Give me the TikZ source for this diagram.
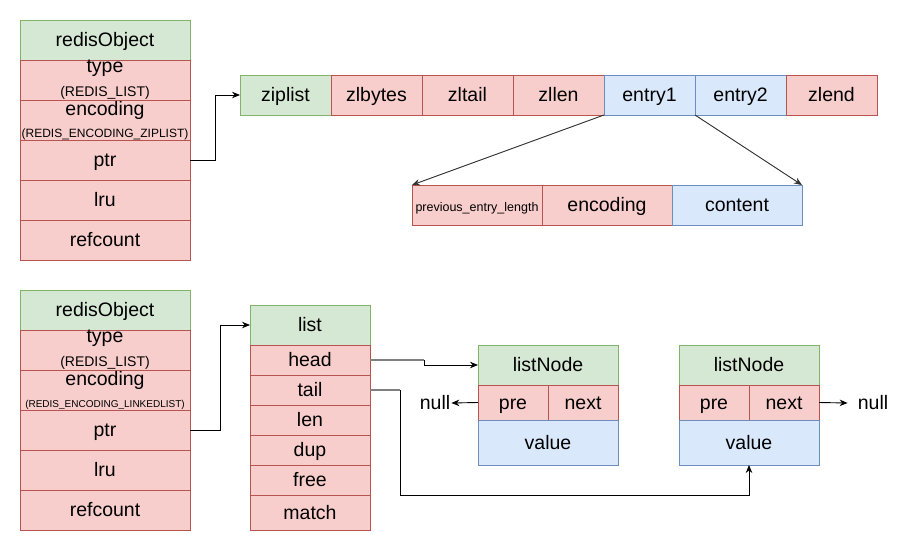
\documentclass[tikz,border=0pt]{standalone}
\usepackage{fontspec}
\setmainfont{Liberation Sans}
\usetikzlibrary{arrows.meta}
\definecolor{gfill}{HTML}{D5E8D4}\definecolor{gline}{HTML}{82B366}
\definecolor{rfill}{HTML}{F8CECC}\definecolor{rline}{HTML}{B85450}
\definecolor{bfill}{HTML}{DAE8FC}\definecolor{bline}{HTML}{6C8EBF}
\definecolor{edgegray}{HTML}{333333}
\begin{document}
\begin{tikzpicture}[x=1pt,y=-1pt,
  cell/.style={rectangle,inner sep=0pt,outer sep=0pt,line width=0.8pt,
     text height=15.6pt,text depth=2.2pt,
     font=\fontsize{19.5}{23}\selectfont},
  gcell/.style={cell,draw=gline,fill=gfill},
  rcell/.style={cell,draw=rline,fill=rfill},
  bcell/.style={cell,draw=bline,fill=bfill},
  lbl/.style={inner sep=0pt,font=\fontsize{19.5}{23}\selectfont},
  small/.style={inner sep=0pt},
  arr/.style={line width=0.9pt,-{Stealth[length=8pt,width=6.5pt]}},
  garr/.style={arr,draw=edgegray,fill=edgegray}]
\useasboundingbox (0,0) rectangle (919,551);
\fill[white] (0,0) rectangle (919,551);
% ---- top redisObject
\node[gcell,minimum width=170pt,minimum height=40pt] (roAh) at (105,40) {redisObject};
\node[rcell,minimum width=170pt,minimum height=40pt] (roAt) at (105,80) {};
\node[rcell,minimum width=170pt,minimum height=40pt] (roAe) at (105,120) {};
\node[rcell,minimum width=170pt,minimum height=40pt] (roAp) at (105,160) {ptr};
\node[rcell,minimum width=170pt,minimum height=40pt] (roAl) at (105,200) {lru};
\node[rcell,minimum width=170pt,minimum height=40pt] (roAr) at (105,240) {refcount};
\node[lbl] (roAtl) at (105,68.5) {type};
\node[small,font=\fontsize{14}{16}\selectfont] (roAts) at (105,92.5) {(REDIS\_LIST)};
\node[lbl] (roAel) at (105,110) {encoding};
\node[small,font=\fontsize{12}{14}\selectfont] (roAes) at (105,134) {(REDIS\_ENCODING\_ZIPLIST)};
% ---- ziplist row
\foreach \n/\t/\s/\x in {zl/ziplist/gcell/285.5, zb/zlbytes/rcell/376.5, zt/zltail/rcell/467.5,
  zn/zllen/rcell/558.5, ea/entry1/bcell/649.5, eb/entry2/bcell/740.5, ze/zlend/rcell/831.5}
  \node[\s,minimum width=91pt,minimum height=40pt] (\n) at (\x,95) {\t};
% ---- entry detail
\node[rcell,minimum width=130pt,minimum height=40pt,font=\fontsize{12.5}{14}\selectfont] (pel) at (477,205) {previous\_entry\_length};
\node[rcell,minimum width=130pt,minimum height=40pt] (enc) at (607,205) {encoding};
\node[bcell,minimum width=130pt,minimum height=40pt] (cnt) at (737,205) {content};
% ---- bottom redisObject
\node[gcell,minimum width=170pt,minimum height=40pt] (roBh) at (105,310) {redisObject};
\node[rcell,minimum width=170pt,minimum height=40pt] (roBt) at (105,350) {};
\node[rcell,minimum width=170pt,minimum height=40pt] (roBe) at (105,390) {};
\node[rcell,minimum width=170pt,minimum height=40pt] (roBp) at (105,430) {ptr};
\node[rcell,minimum width=170pt,minimum height=40pt] (roBl) at (105,470) {lru};
\node[rcell,minimum width=170pt,minimum height=40pt] (roBr) at (105,510) {refcount};
\node[lbl] (roBtl) at (105,338.5) {type};
\node[small,font=\fontsize{14}{16}\selectfont] (roBts) at (105,362.5) {(REDIS\_LIST)};
\node[lbl] (roBel) at (105,380) {encoding};
\node[small,font=\fontsize{10}{12}\selectfont] (roBes) at (105,405) {(REDIS\_ENCODING\_LINKEDLIST)};
% ---- list
\node[gcell,minimum width=120pt,minimum height=40pt] (lst) at (310,325) {list};
\node[rcell,minimum width=120pt,minimum height=30pt] (lhead) at (310,360) {head};
\node[rcell,minimum width=120pt,minimum height=30pt] (ltail) at (310,390) {tail};
\node[rcell,minimum width=120pt,minimum height=30pt] (llen) at (310,420) {len};
\node[rcell,minimum width=120pt,minimum height=30pt] (ldup) at (310,450) {dup};
\node[rcell,minimum width=120pt,minimum height=30pt] (lfree) at (310,480) {free};
\node[rcell,minimum width=120pt,minimum height=35pt] (lmatch) at (310,512.5) {match};
% ---- listNodes
\node[gcell,minimum width=140pt,minimum height=40pt] (naH) at (548,365) {listNode};
\node[rcell,minimum width=70pt,minimum height=35pt] (naP) at (513,402.5) {pre};
\node[rcell,minimum width=70pt,minimum height=35pt] (naN) at (583,402.5) {next};
\node[bcell,minimum width=140pt,minimum height=45pt] (naV) at (548,442.5) {value};
\node[gcell,minimum width=140pt,minimum height=40pt] (nbH) at (749,365) {listNode};
\node[rcell,minimum width=70pt,minimum height=35pt] (nbP) at (714,402.5) {pre};
\node[rcell,minimum width=70pt,minimum height=35pt] (nbN) at (784,402.5) {next};
\node[bcell,minimum width=140pt,minimum height=45pt] (nbV) at (749,442.5) {value};
\node[lbl] (nullL) at (435,403) {null};
\node[lbl] (nullR) at (873,403) {null};
% ---- connectors
\draw[arr] (roAp.east) -- (215,160) |- (zl.west);
\draw[garr] (ea.south west) -- (pel.north west);
\draw[garr] (eb.south west) -- (cnt.north east);
\draw[arr] (roBp.east) -- (220,430) |- (lst.west);
\draw[line width=1.4pt,gray] (lhead.east) -- (424,360);
\draw[arr] (424,360) |- (naH.west);
\draw[line width=1.4pt,gray] (ltail.east) -- (400,390);
\draw[arr] (400,390) -- (400,495) -| (nbV.south);
\draw[arr] (naP.west) -- ([xshift=1pt]nullL.east);
\draw[arr] (nbN.east) -- ([xshift=-10pt]nullR.west);
\end{tikzpicture}
\end{document}
